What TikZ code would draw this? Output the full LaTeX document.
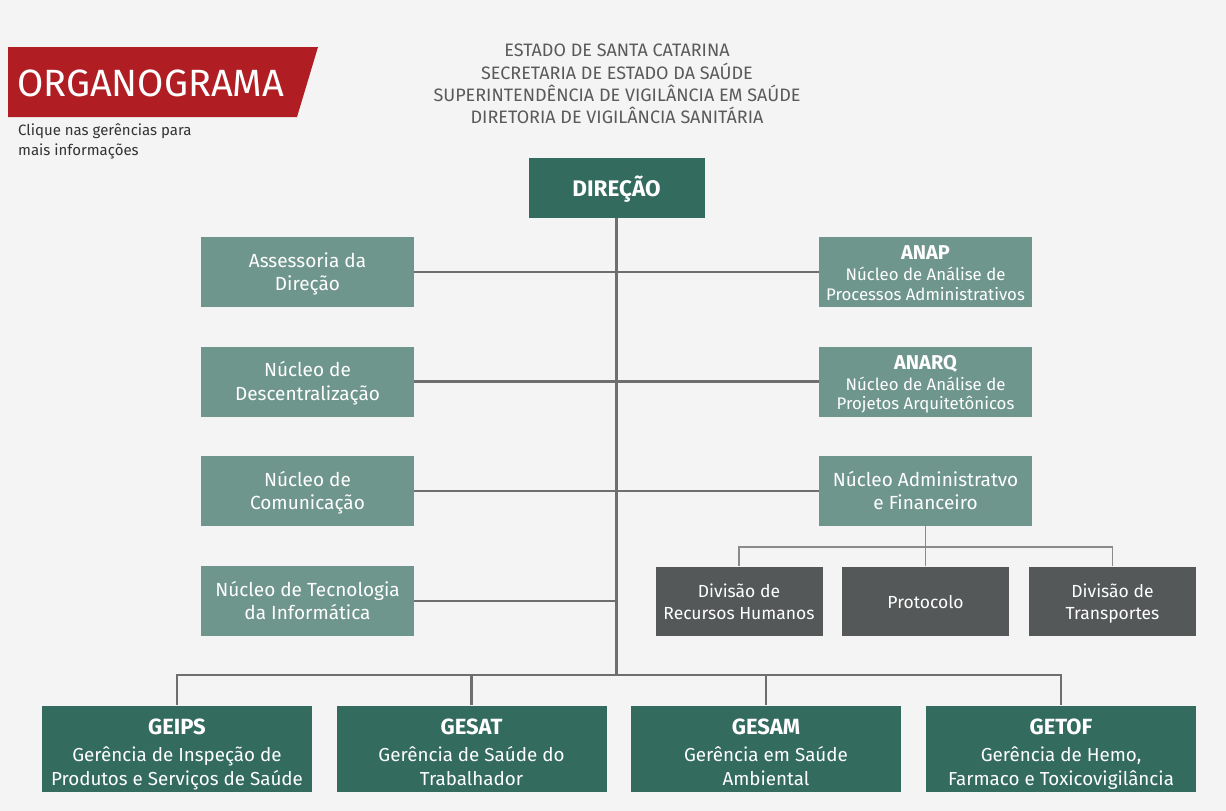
\documentclass[tikz,border=0pt]{standalone}
\usepackage{fontspec}
\setmainfont{Fira Sans}
\definecolor{dteal}{HTML}{336B5F}
\definecolor{lteal}{HTML}{6F968C}
\definecolor{dgray}{HTML}{555858}
\definecolor{bannerred}{HTML}{B01E24}
\definecolor{linegray}{HTML}{6E6E6E}
\definecolor{subgray}{HTML}{8A8A8A}
\definecolor{bg}{HTML}{F4F4F4}
\definecolor{hdrgray}{HTML}{5A5A5A}
\newcommand{\ttl}[1]{{\fontsize{20}{22}\selectfont\bfseries #1}}
\newcommand{\gttl}[1]{{\fontsize{22}{24}\selectfont\bfseries #1}}
\newcommand{\hstr}[1]{\rule{0pt}{#1}}
\newcommand{\dstr}{\rule[-5pt]{0pt}{5pt}}
\tikzset{
  basebox/.style={inner sep=0pt, text=white, align=center, draw=none},
  lbox/.style={basebox, fill=lteal, minimum width=213pt, minimum height=70pt, font=\fontsize{19}{23.5}\selectfont},
  rbox/.style={basebox, fill=lteal, minimum width=213pt, minimum height=70pt, font=\fontsize{16.8}{19.8}\selectfont},
  dbox/.style={basebox, fill=dgray, minimum width=167pt, minimum height=69pt, font=\fontsize{17.5}{22}\selectfont},
  gbox/.style={basebox, fill=dteal, minimum width=270pt, minimum height=86pt, font=\fontsize{18.8}{23.5}\selectfont},
  topbox/.style={basebox, fill=dteal, minimum width=176pt, minimum height=60pt, font=\fontsize{22.5}{24}\selectfont\bfseries},
  conn/.style={draw=linegray, line width=2.6pt},
  subconn/.style={draw=subgray, line width=1.8pt},
}
\begin{document}
\begin{tikzpicture}[x=1pt,y=-1pt]
\useasboundingbox (0,0) rectangle (1226,811);
\fill[bg] (0,0) rectangle (1226,811);

% banner
\fill[bannerred] (8,47) -- (318,47) -- (297,117) -- (8,117) -- cycle;
\node[anchor=west, inner sep=0pt, text=white, font=\fontsize{38}{40}\selectfont] (title) at (17,83) {ORGANOGRAMA};
\node[anchor=north west, inner sep=0pt, text=black!80, align=left, font=\fontsize{15}{20}\selectfont] (hint) at (18,123) {Clique nas gerências para\\mais informações};

% header
\node[inner sep=0pt, text=hdrgray, align=center, font=\fontsize{18}{22.3}\selectfont] (hdr) at (617,84) {ESTADO DE SANTA CATARINA\\SECRETARIA DE ESTADO DA SAÚDE\\SUPERINTENDÊNCIA DE VIGILÂNCIA EM SAÚDE\\DIRETORIA DE VIGILÂNCIA SANITÁRIA};

% boxes
\node[topbox] (dir) at (616.5,188) {\hstr{22.4pt}DIREÇÃO\dstr};

\node[lbox] (l1) at (307.5,272) {\hstr{19pt}Assessoria da\\Direção\dstr};
\node[lbox] (l2) at (307.5,381.5) {\hstr{19pt}Núcleo de\\Descentralização\dstr};
\node[lbox] (l3) at (307.5,491) {\hstr{19pt}Núcleo de\\Comunicação\dstr};
\node[lbox] (l4) at (307.5,601) {\hstr{19pt}Núcleo de Tecnologia\\da Informática\dstr};

\node[rbox] (r1) at (925.5,272) {\hstr{21pt}\ttl{ANAP}\\[1pt]Núcleo de Análise de\\Processos Administrativos\dstr};
\node[rbox] (r2) at (925.5,381.5) {\hstr{21pt}\ttl{ANARQ}\\[1pt]Núcleo de Análise de\\Projetos Arquitetônicos\dstr};
\node[lbox] (r3) at (925.5,491) {\hstr{19pt}Núcleo Administratvo\\e Financeiro\dstr};

\node[dbox] (d1) at (739,601) {\hstr{19.6pt}Divisão de\\Recursos Humanos\dstr};
\node[dbox] (d2) at (925.5,601) {\hstr{19.6pt}Protocolo\dstr};
\node[dbox] (d3) at (1112.5,601) {\hstr{19.6pt}Divisão de\\Transportes\dstr};

\node[gbox] (g1) at (177,748.5) {\hstr{27pt}\gttl{GEIPS}\\[4pt]Gerência de Inspeção de\\Produtos e Serviços de Saúde\dstr};
\node[gbox] (g2) at (471.5,748.5) {\hstr{27pt}\gttl{GESAT}\\[4pt]Gerência de Saúde do\\Trabalhador\dstr};
\node[gbox] (g3) at (766,748.5) {\hstr{27pt}\gttl{GESAM}\\[4pt]Gerência em Saúde\\Ambiental\dstr};
\node[gbox] (g4) at (1061,748.5) {\hstr{27pt}\gttl{GETOF}\\[4pt]Gerência de Hemo,\\Farmaco e Toxicovigilância\dstr};

% connectors
\coordinate (bus) at (616.5,675);
\coordinate (sub) at (925.5,547);
\draw[conn] (dir.south) -- (bus);
\draw[conn] (l1.east) -- (r1.west);
\draw[conn] (l2.east) -- (r2.west);
\draw[conn] (l3.east) -- (r3.west);
\draw[conn] (l4.east) -- (l4.east -| dir.south);
\draw[conn] (g1.north) -- (g1.north |- bus) -- (g4.north |- bus) -- (g4.north);
\draw[conn] (g2.north) -- (g2.north |- bus);
\draw[conn] (g3.north) -- (g3.north |- bus);
\draw[subconn] (r3.south) -- (sub);
\draw[subconn] (d1.north) -- (d1.north |- sub) -- (d3.north |- sub) -- (d3.north);
\draw[subconn] (d2.north) -- (sub);
\end{tikzpicture}
\end{document}
